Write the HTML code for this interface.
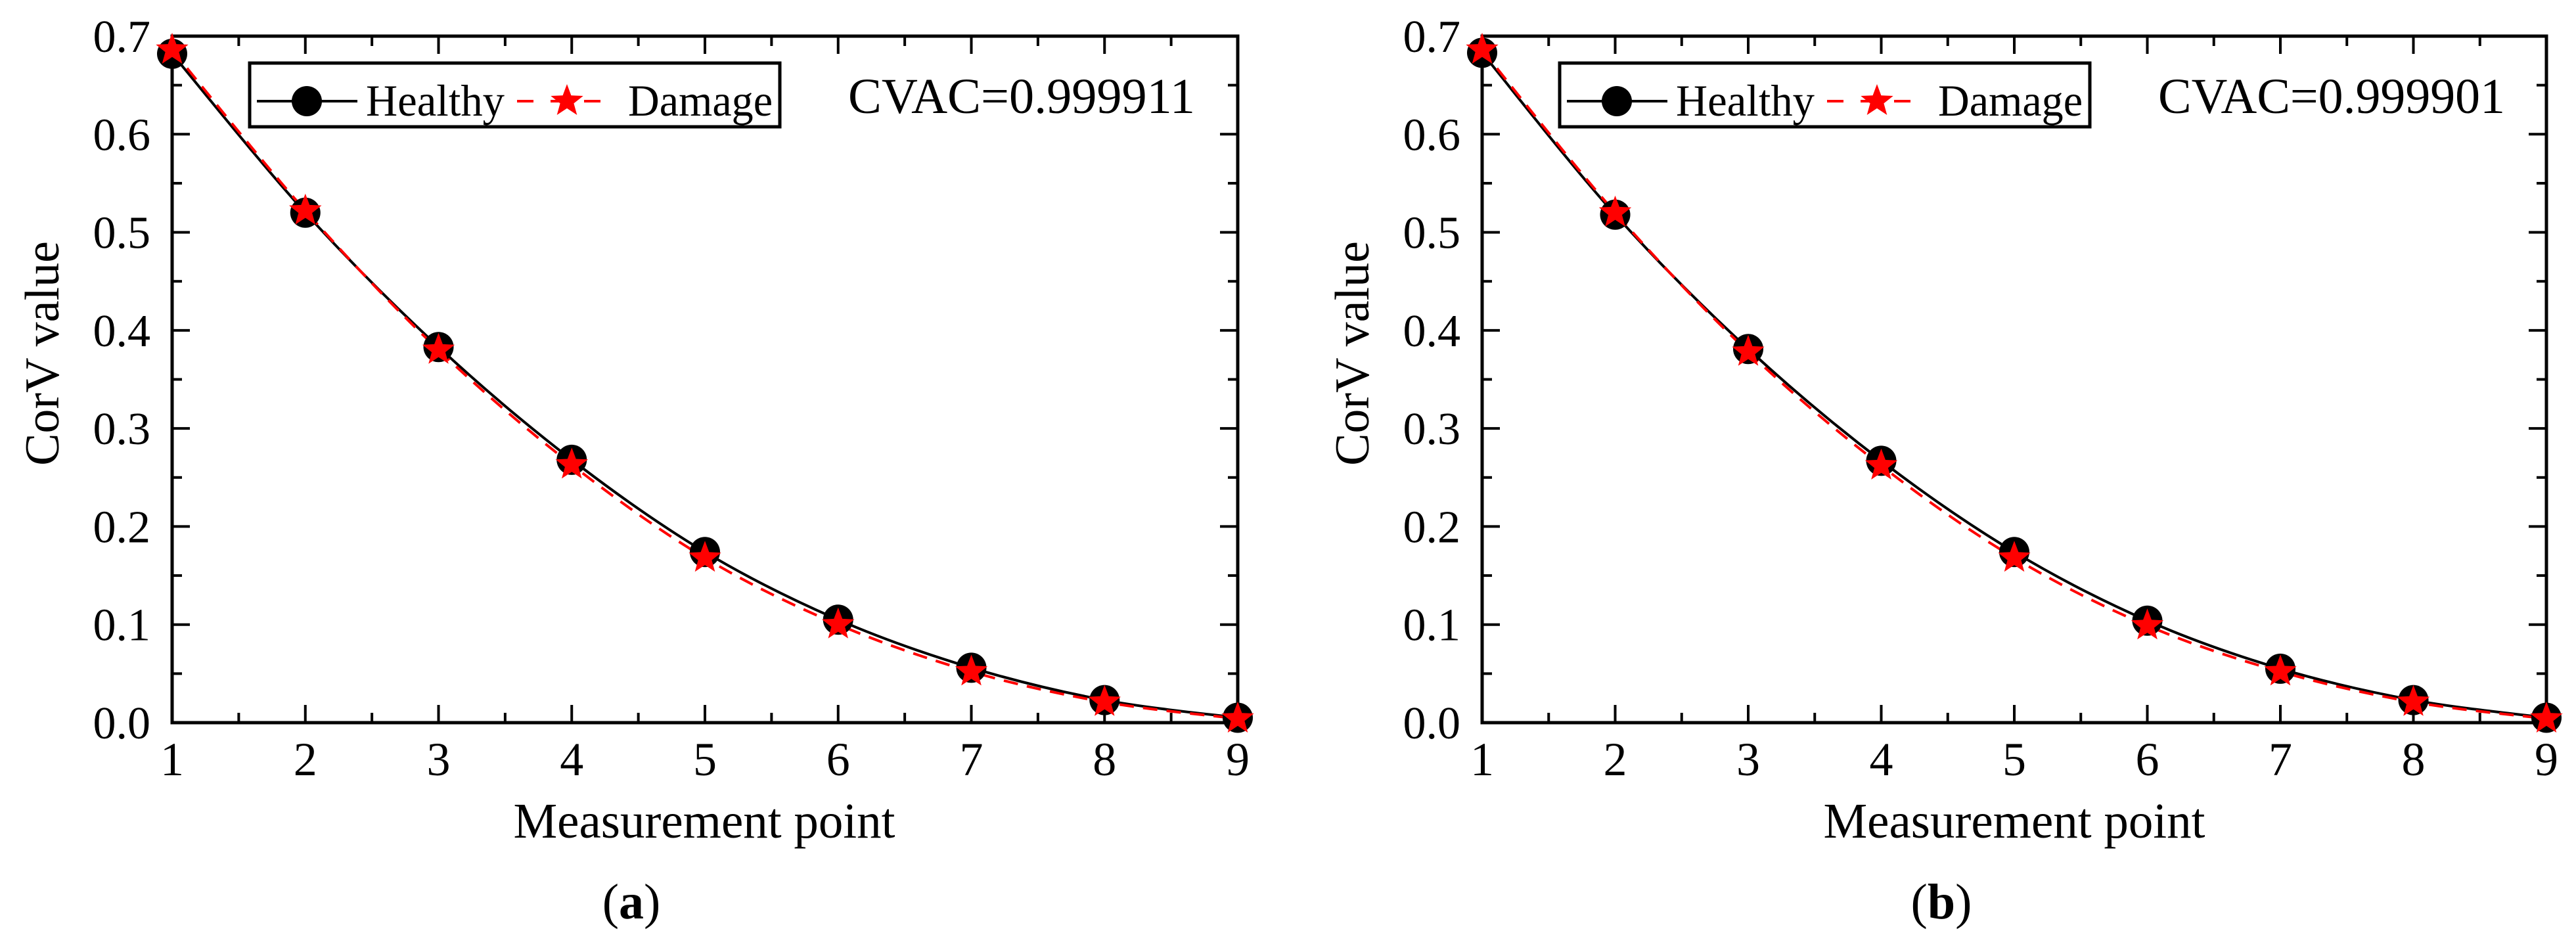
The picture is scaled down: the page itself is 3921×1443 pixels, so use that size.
<!DOCTYPE html>
<html><head><meta charset="utf-8">
<style>
html,body{margin:0;padding:0;background:#fff;}
svg{display:block;}
svg text{font-family:"Liberation Serif","Times New Roman",Times,serif;}
</style></head>
<body>
<svg id="fig" width="3921" height="1443" viewBox="0 0 3921 1443" xmlns="http://www.w3.org/2000/svg" font-family="Liberation Serif, Times New Roman, serif"></svg>
<script>
const categories = [1,2,3,4,5,6,7,8,9];
const healthyA = [0.682,0.520,0.383,0.268,0.174,0.105,0.056,0.023,0.005];
const damageA  = [0.686,0.522,0.380,0.263,0.168,0.100,0.052,0.021,0.004];
const healthyB = [0.683,0.518,0.381,0.267,0.174,0.104,0.055,0.023,0.005];
const damageB  = [0.686,0.520,0.378,0.262,0.168,0.099,0.052,0.021,0.004];
const yTicks = [0.0,0.1,0.2,0.3,0.4,0.5,0.6,0.7];
const yTickLabels = ["0.0","0.1","0.2","0.3","0.4","0.5","0.6","0.7"];
const xTickLabels = ["1","2","3","4","5","6","7","8","9"];
const cvacLabels = ["CVAC=0.999911","CVAC=0.999901"];
const panelLabels = ["a","b"];

const NS="http://www.w3.org/2000/svg";
const FF="Liberation Serif, Times New Roman, serif";
const svg=document.getElementById('fig');
function mk(tag,attrs,parent){const e=document.createElementNS(NS,tag);for(const k in attrs)e.setAttribute(k,attrs[k]);if(tag==='text')e.setAttribute('font-family',FF);(parent||svg).appendChild(e);return e;}
function starPts(cx,cy,R){const r=R*0.42;let p=[];for(let i=0;i<10;i++){const a=-Math.PI/2+i*Math.PI/5;const rr=i%2?r:R;p.push((cx+rr*Math.cos(a)).toFixed(1)+','+(cy+rr*Math.sin(a)).toFixed(1));}return p.join(' ');}
function smooth(pts){let d='M'+pts[0][0]+','+pts[0][1];for(let i=0;i<pts.length-1;i++){const p0=pts[Math.max(0,i-1)],p1=pts[i],p2=pts[i+1],p3=pts[Math.min(pts.length-1,i+2)];const c1=[p1[0]+(p2[0]-p0[0])/6,p1[1]+(p2[1]-p0[1])/6],c2=[p2[0]-(p3[0]-p1[0])/6,p2[1]-(p3[1]-p1[1])/6];d+=' C'+c1[0].toFixed(1)+','+c1[1].toFixed(1)+' '+c2[0].toFixed(1)+','+c2[1].toFixed(1)+' '+p2[0].toFixed(1)+','+p2[1].toFixed(1);}return d;}

function panel(idx,dx,x0,x1,healthy,damage){
  const y0=1100,y1=55;
  const g=mk('g',{});
  
  
  const X=v=>x0+(v-1)/(8)*(x1-x0);
  const Y=v=>y0+(v-0)/(0.7)*(y1-y0);
  for(let i=0;i<yTicks.length;i++){
    const y=Y(yTicks[i]);
    mk('line',{x1:x0,y1:y,x2:x0+27,y2:y,stroke:'#000','stroke-width':4},g);
    mk('line',{x1:x1,y1:y,x2:x1-27,y2:y,stroke:'#000','stroke-width':4},g);
    if(i<yTicks.length-1){const ym=Y(yTicks[i]+0.05);
      mk('line',{x1:x0,y1:ym,x2:x0+15,y2:ym,stroke:'#000','stroke-width':4},g);
      mk('line',{x1:x1,y1:ym,x2:x1-15,y2:ym,stroke:'#000','stroke-width':4},g);}
    const t=mk('text',{x:x0-33,y:y+24,'font-size':70,'text-anchor':'end'},g);
    t.textContent=yTickLabels[i];
    
    
  }
  for(let i=0;i<categories.length;i++){
    const x=X(categories[i]);
    mk('line',{x1:x,y1:y0,x2:x,y2:y0-27,stroke:'#000','stroke-width':4},g);
    mk('line',{x1:x,y1:y1,x2:x,y2:y1+27,stroke:'#000','stroke-width':4},g);
    if(i<categories.length-1){const xm=X(categories[i]+0.5);
      mk('line',{x1:xm,y1:y0,x2:xm,y2:y0-15,stroke:'#000','stroke-width':4},g);
      mk('line',{x1:xm,y1:y1,x2:xm,y2:y1+15,stroke:'#000','stroke-width':4},g);}
    const t=mk('text',{x:x,y:1180,'font-size':72,'text-anchor':'middle'},g);
    t.textContent=xTickLabels[i];
    
    
  }
  const fr=mk('rect',{x:x0,y:y1,width:x1-x0,height:y0-y1,fill:'none',stroke:'#000','stroke-width':5},g);
  
  
  const hp=categories.map((c,i)=>[X(c),Y(healthy[i])]);
  const dp=categories.map((c,i)=>[X(c),Y(damage[i])]);
  const hl=mk('path',{d:smooth(hp),fill:'none',stroke:'#000','stroke-width':4},g);
  
  
  const dl=mk('path',{d:smooth(dp),fill:'none',stroke:'#f00','stroke-width':4,'stroke-dasharray':'22 14'},g);
  
  
  hp.forEach(p=>{const c=mk('circle',{cx:p[0],cy:p[1],r:23,fill:'#000'},g);
    
    });
  dp.forEach(p=>{const s=mk('polygon',{points:starPts(p[0],p[1],26),fill:'#f00'},g);
    
    });
  const lg=mk('g',{},g);
  
  
  mk('rect',{x:380+dx,y:96,width:807,height:97,fill:'#fff',stroke:'#000','stroke-width':5},lg);
  mk('line',{x1:391+dx,y1:154,x2:544+dx,y2:154,stroke:'#000','stroke-width':4},lg);
  mk('circle',{cx:467+dx,cy:154,r:23,fill:'#000'},lg);
  const t1=mk('text',{x:557+dx,y:176,'font-size':68,textLength:211,lengthAdjust:'spacingAndGlyphs'},lg);t1.textContent='Healthy';
  mk('line',{x1:787+dx,y1:154,x2:940+dx,y2:154,stroke:'#f00','stroke-width':4,'stroke-dasharray':'25 26'},lg);
  mk('polygon',{points:starPts(863+dx,154,26),fill:'#f00'},lg);
  const t2=mk('text',{x:956+dx,y:176,'font-size':68,textLength:220,lengthAdjust:'spacingAndGlyphs'},lg);t2.textContent='Damage';
  const cv=mk('text',{x:1291+dx,y:172,'font-size':76,textLength:528,lengthAdjust:'spacingAndGlyphs'},g);
  cv.textContent=cvacLabels[idx];
  
  
  const xl=mk('text',{x:1072+dx,y:1275,'font-size':76,'text-anchor':'middle',textLength:581,lengthAdjust:'spacingAndGlyphs'},g);
  xl.textContent='Measurement point';
  
  
  const yl=mk('text',{x:0,y:0,'font-size':74,'text-anchor':'middle',transform:'translate('+(89+dx)+',538) rotate(-90)'},g);
  yl.textContent='CorV value';
  
  
  const pl=mk('text',{x:961+dx,y:1398,'font-size':76,'text-anchor':'middle'},g);
  pl.textContent='(';
  const ts=document.createElementNS(NS,'tspan');ts.setAttribute('font-weight','bold');ts.textContent=panelLabels[idx];pl.appendChild(ts);
  pl.appendChild(document.createTextNode(')'));
  
  
}
panel(0,0,262,1884,healthyA,damageA);
panel(1,1994,2256,3876,healthyB,damageB);
</script>
</body></html>
